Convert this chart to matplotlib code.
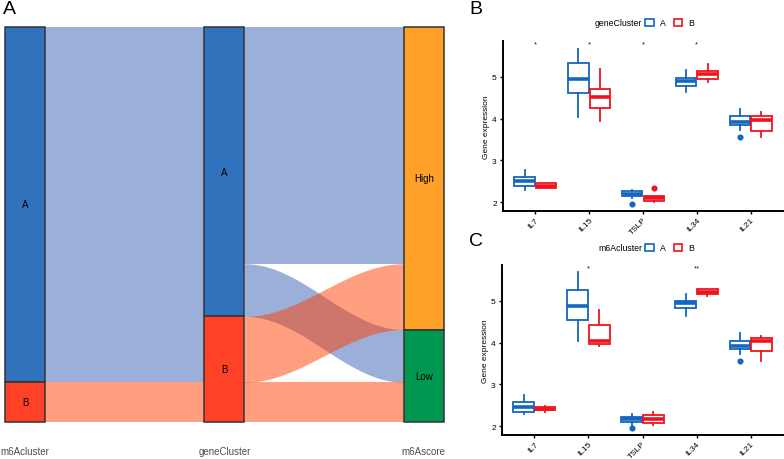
import numpy as np
import matplotlib
matplotlib.use('Agg')
import matplotlib.pyplot as plt
from matplotlib.patches import Rectangle, Patch

plt.rcParams['font.family'] = ['Liberation Sans', 'DejaVu Sans']

# ---- Sankey data (A) ----
axis_names = ['m6Acluster', 'geneCluster', 'm6Ascore']
strata = [['A', 'B'], ['A', 'B'], ['High', 'Low']]
combo_m6a = ['A', 'A', 'A', 'B']
combo_gene = ['A', 'A', 'B', 'B']
combo_score = ['High', 'Low', 'High', 'Low']
combo_n = [18, 4, 5, 3]

# ---- Boxplot data (B, C) ----
genes = ['IL7', 'IL15', 'TSLP', 'IL34', 'IL21']
# each box: [whisker low, Q1, median, Q3, whisker high]
geneA_stats = [[2.30, 2.40, 2.50, 2.60, 2.76], [4.04, 4.62, 4.96, 5.34, 5.68],
               [2.10, 2.14, 2.20, 2.26, 2.30], [4.64, 4.78, 4.90, 4.98, 5.16],
               [3.74, 3.86, 3.92, 4.06, 4.24]]
geneA_out = [[], [], [1.96], [], [3.56]]
geneB_stats = [[2.34, 2.35, 2.40, 2.46, 2.46], [3.94, 4.26, 4.51, 4.72, 5.20],
               [2.00, 2.02, 2.10, 2.16, 2.16], [4.88, 4.94, 5.06, 5.14, 5.30],
               [3.56, 3.70, 3.96, 4.06, 4.16]]
geneB_out = [[], [], [2.35], [], []]
gene_sig = ['*', '*', '*', '*', '']

m6aA_stats = [[2.30, 2.35, 2.47, 2.57, 2.75], [4.03, 4.54, 4.87, 5.27, 5.69],
              [2.03, 2.10, 2.17, 2.23, 2.30], [4.63, 4.82, 4.94, 4.99, 5.16],
              [3.73, 3.85, 3.91, 4.03, 4.23]]
m6aA_out = [[], [], [1.95], [], [3.56]]
m6aB_stats = [[2.35, 2.38, 2.42, 2.47, 2.49], [3.93, 3.97, 4.03, 4.43, 4.79],
              [2.02, 2.07, 2.17, 2.26, 2.34], [5.11, 5.17, 5.22, 5.28, 5.29],
              [3.56, 3.79, 4.03, 4.12, 4.17]]
m6aB_out = [[], [], [], [], []]
m6a_sig = ['', '*', '', '**', '']

# colours
stratum_col = {'A': '#3072BC', 'B': '#FF4128', 'High': '#FFA128', 'Low': '#009850'}
flow_col = {'A': '#3B61B5', 'B': '#FF4100'}
colA = '#1367BE'
colB = '#F2121E'

W, H = 784, 460
fig = plt.figure(figsize=(W / 100, H / 100), dpi=100)

# ================= Panel A: alluvial =================
axA = fig.add_axes([5 / W, (H - 422.7) / H, 438.7 / W, 395 / H])
total = sum(combo_n)
axA.set_xlim(-0.1, 2.1)
axA.set_ylim(total, 0)
axA.axis('off')
bw = 0.2
values = [combo_m6a, combo_gene, combo_score]
ncomb = len(combo_n)

# lode positions at each axis (stacked from the top)
tops = np.zeros((3, ncomb))
for i in range(3):
    others = [j for j in range(3) if j != i]
    others.sort(key=lambda j: abs(j - i))
    order = sorted(range(ncomb), key=lambda k: [strata[i].index(values[i][k])] +
                   [strata[j].index(values[j][k]) for j in others])
    y = 0
    for k in order:
        tops[i, k] = y
        y += combo_n[k]

t = np.linspace(0, 1, 80)
s = (1 - np.cos(np.pi * t)) / 2
for i in range(2):
    pairs = {}
    for k in range(ncomb):
        key = (values[i][k], values[i + 1][k])
        a0, b0 = tops[i, k], tops[i, k] + combo_n[k]
        a1, b1 = tops[i + 1, k], tops[i + 1, k] + combo_n[k]
        if key in pairs:
            p = pairs[key]
            pairs[key] = [min(p[0], a0), max(p[1], b0), min(p[2], a1), max(p[3], b1)]
        else:
            pairs[key] = [a0, b0, a1, b1]
    x0, x1 = i + bw / 2, i + 1 - bw / 2
    for key in sorted(pairs, key=lambda q: q[0]):
        a0, b0, a1, b1 = pairs[key]
        xx = x0 + (x1 - x0) * t
        axA.fill_between(xx, a0 + (a1 - a0) * s, b0 + (b1 - b0) * s,
                         color=flow_col[key[0]], alpha=0.5, lw=0)

for i in range(3):
    y = 0
    for st in strata[i]:
        n = sum(c for c, v in zip(combo_n, values[i]) if v == st)
        axA.add_patch(Rectangle((i - bw / 2, y), bw, n, facecolor=stratum_col[st],
                                edgecolor='#333333', lw=1.1, clip_on=False, zorder=3))
        axA.text(i, y + n / 2, st, ha='center', va='center', fontsize=7, zorder=4)
        y += n
    axA.text(i, -0.074, axis_names[i], transform=axA.get_xaxis_transform(),
             ha='center', va='center', fontsize=7, color='#4D4D4D')

fig.text(3 / W, 1 - 10 / H, 'A', fontsize=14, ha='left', va='center')


# ================= Panels B, C: boxplots =================
def box_panel(rect, statsA, outA, statsB, outB, sig, title, label, label_y, leg_y):
    ax = fig.add_axes(rect)
    pos = np.arange(1, len(genes) + 1)
    for stats, outs, off, c in [(statsA, outA, -0.2, colA), (statsB, outB, 0.2, colB)]:
        bx = [dict(whislo=v[0], q1=v[1], med=v[2], q3=v[3], whishi=v[4], fliers=o)
              for v, o in zip(stats, outs)]
        ax.bxp(bx, positions=pos + off, widths=0.38, showcaps=False, patch_artist=True,
               boxprops=dict(facecolor='white', edgecolor=c, lw=1.3),
               whiskerprops=dict(color=c, lw=1.3),
               medianprops=dict(color=c, lw=2.6, solid_capstyle='butt'),
               flierprops=dict(marker='o', markerfacecolor=c, markeredgecolor=c,
                               markersize=3.4, linestyle='none'))
    for p, sg in zip(pos, sig):
        if sg:
            ax.text(p, 5.8, sg, ha='center', va='center', fontsize=5.5, color='#222222')
    ax.set_xlim(0.4, 5.6)
    ax.set_ylim(1.79, 5.86)
    ax.set_xticks(pos)
    ax.set_xticklabels(genes, rotation=45, ha='right', rotation_mode='anchor', fontsize=5.5)
    ax.set_yticks([2, 3, 4, 5])
    ax.tick_params(axis='both', labelsize=6, length=2.5, width=1, pad=2)
    ax.tick_params(axis='x', pad=1)
    ax.set_ylabel('Gene expression', fontsize=6, labelpad=1.5)
    for sp in ['top', 'right']:
        ax.spines[sp].set_visible(False)
    for sp in ['left', 'bottom']:
        ax.spines[sp].set_linewidth(1.4)
    fig.text(469 / W, 1 - label_y / H, label, fontsize=14, ha='left', va='center')
    fig.text(642 / W, 1 - leg_y / H, title, fontsize=6.3, ha='right', va='center')
    handles = [Patch(facecolor='white', edgecolor=colA, lw=1.2, label='A'),
               Patch(facecolor='white', edgecolor=colB, lw=1.2, label='B')]
    fig.legend(handles=handles, loc='center left', bbox_to_anchor=(645 / W, 1 - leg_y / H),
               ncol=2, frameon=False, fontsize=6.3, handlelength=1.0, handleheight=0.8,
               handletextpad=0.7, columnspacing=0.9, borderpad=0, borderaxespad=0)
    return ax


box_panel([503 / W, (H - 212) / H, 280 / W, 170 / H], geneA_stats, geneA_out,
          geneB_stats, geneB_out, gene_sig, 'geneCluster', 'B', 10, 24)
box_panel([502 / W, (H - 436) / H, 281 / W, 170 / H], m6aA_stats, m6aA_out,
          m6aB_stats, m6aB_out, m6a_sig, 'm6Acluster', 'C', 242, 249)

fig.savefig('out.png', dpi=100)
